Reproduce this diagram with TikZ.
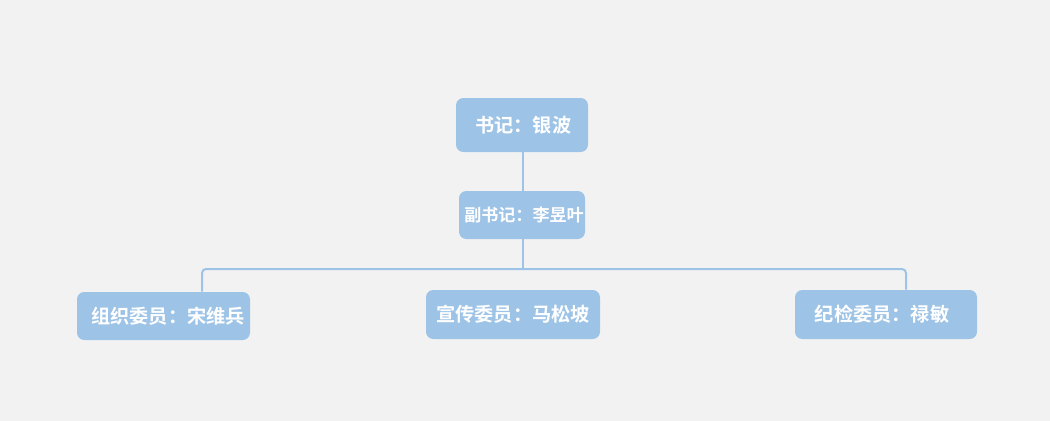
\documentclass[tikz,border=0pt]{standalone}
\usepackage{fontspec}
\newfontfamily\cjk{Noto Sans CJK SC Bold}
\definecolor{bg}{HTML}{F2F2F2}
\definecolor{boxc}{HTML}{9DC3E6}
\begin{document}
\begin{tikzpicture}[x=0.75pt,y=-0.75pt,
  box/.style={fill=boxc,draw=none,rounded corners=5.5pt,inner sep=0pt,text=white,font=\cjk\fontsize{14.4pt}{16pt}\selectfont},
  link/.style={draw=boxc,line width=1.5pt}]
\fill[bg] (0,0) rectangle (1050,421);
\useasboundingbox (0,0) rectangle (1050,421);
\node[box,minimum width=99pt,minimum height=40.5pt] (sec) at (522,125) {\hspace*{2pt}书记：银波};
\node[box,minimum width=94.5pt,minimum height=36pt,font=\cjk\fontsize{12.8pt}{14pt}\selectfont] (dep) at (522,215) {\hspace*{3pt}副书记：李昱叶};
\node[box,minimum width=129.75pt,minimum height=36pt] (org) at (163.5,316) {\hspace*{7pt}组织委员：宋维兵};
\node[box,minimum width=130.5pt,minimum height=36.75pt] (pro) at (513,314.5) {宣传委员：马松坡};
\node[box,minimum width=136.5pt,minimum height=36.75pt] (dis) at (886,314.5) {纪检委员：禄敏\hspace*{6pt}};
\coordinate (j) at (523,269);
\coordinate (jl) at (202,269);
\coordinate (jr) at (906,269);
\draw[link] (sec.south -| j) -- (dep.north -| j);
\draw[link] (dep.south -| j) -- (j);
\draw[link,rounded corners=3pt] (org.north -| jl) -- (jl) -- (jr) -- (dis.north -| jr);
\end{tikzpicture}
\end{document}
